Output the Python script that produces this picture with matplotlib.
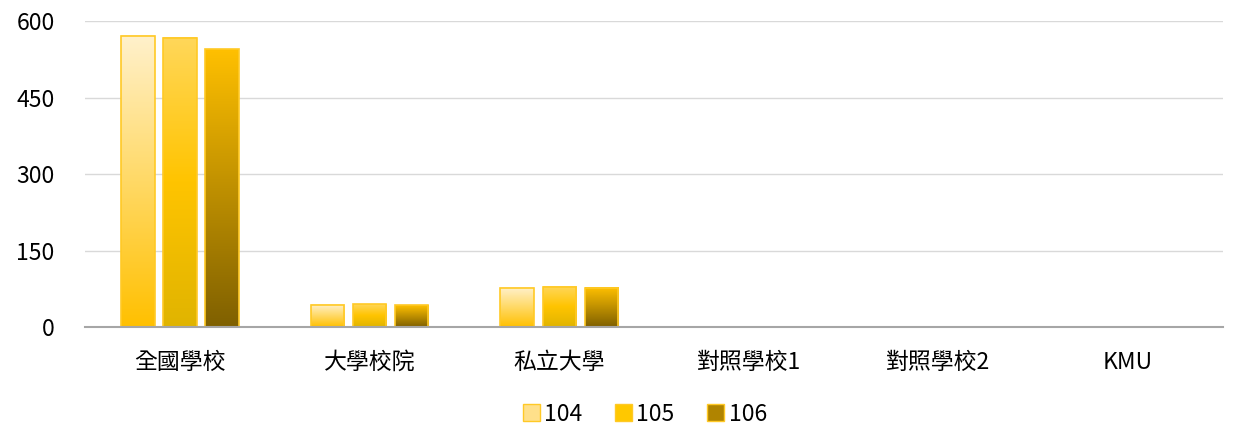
import matplotlib.pyplot as plt
import numpy as np
from matplotlib.colors import LinearSegmentedColormap
from matplotlib.patches import Patch

plt.rcParams['font.family'] = ['Noto Sans CJK TC', 'DejaVu Sans']

categories = ['全國學校', '大學校院', '私立大學', '對照學校1', '對照學校2', 'KMU']
years = ['104', '105', '106']
v104 = [572, 44, 77, 0, 0, 0]
v105 = [567, 45, 79, 0, 0, 0]
v106 = [545, 43, 77, 0, 0, 0]

# gradient colours, top -> bottom
grads = [
    ['#FFF1CC', '#FFD966', '#FFC000'],
    ['#FFD75A', '#FFC400', '#E0B400'],
    ['#FFC000', '#BF9000', '#7F6000'],
]
legend_cols = ['#FFE08A', '#FFC800', '#B08400']

fig = plt.figure(figsize=(12.35, 4.25), dpi=100)
ax = fig.add_axes([0.069, 0.23, 0.921, 0.72])

x = np.arange(len(categories))
w = 0.175
gap = 0.222
series = [v104, v105, v106]
for i, vals in enumerate(series):
    cmap = LinearSegmentedColormap.from_list('g%d' % i, grads[i][::-1])
    grad = np.linspace(0, 1, 256).reshape(-1, 1)
    for xi, v in zip(x, vals):
        if v <= 0:
            continue
        left = xi + (i - 1) * gap - w / 2
        ax.imshow(grad, cmap=cmap, origin='lower', aspect='auto',
                  extent=[left, left + w, 0, v], zorder=2)
        ax.add_patch(plt.Rectangle((left, 0), w, v, fill=False,
                                   edgecolor='#FFC926', linewidth=1.2, zorder=3))

ax.set_xlim(-0.5, len(categories) - 0.5)
ax.set_ylim(0, 600)
ax.set_yticks([0, 150, 300, 450, 600])
ax.set_xticks(x)
ax.set_xticklabels(categories, fontsize=16.5)
ax.tick_params(axis='y', labelsize=16.5, length=0, pad=22)
ax.tick_params(axis='x', length=0, pad=17)
ax.grid(axis='y', color='#D9D9D9', linewidth=1, zorder=0)
ax.set_axisbelow(True)
for s in ['left', 'right', 'top']:
    ax.spines[s].set_visible(False)
ax.spines['bottom'].set_color('#A6A6A6')
ax.spines['bottom'].set_linewidth(1.5)
ax.spines['bottom'].set_zorder(4)

handles = [Patch(facecolor=c, edgecolor='#FFC926', label=y) for c, y in zip(legend_cols, years)]
fig.legend(handles=handles, loc='lower center', bbox_to_anchor=(0.522, -0.05), ncol=3,
           frameon=False, fontsize=16.5, handlelength=0.75, handleheight=0.75,
           handletextpad=0.2, columnspacing=1.4)

fig.savefig('out.png', dpi=100)
